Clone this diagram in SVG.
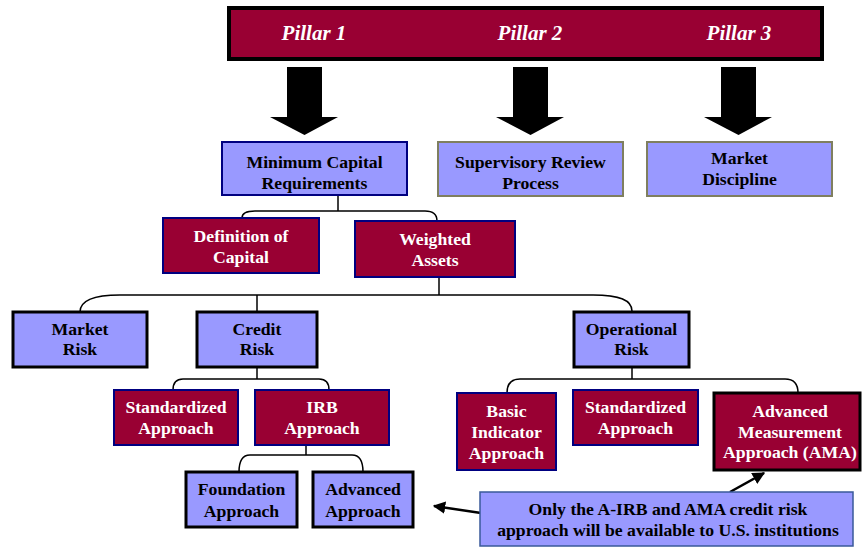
<svg xmlns="http://www.w3.org/2000/svg" width="862" height="548" viewBox="0 0 862 548">
<defs>
<style>
.t{font-family:"Liberation Serif","Times New Roman",serif;font-weight:bold;font-size:17.7px;text-anchor:middle}
.w{fill:#ffffff}
.k{fill:#000000}
.pil{font-family:"Liberation Serif","Times New Roman",serif;font-weight:bold;font-style:italic;font-size:21px;fill:#ffffff;text-anchor:middle}
.lav{fill:#9999ff}
.mar{fill:#990033}
.nav{stroke:#000080;stroke-width:2}
.blk{stroke:#000000;stroke-width:3}
.olv{stroke:#7f7f5f;stroke-width:2}
.con{fill:none;stroke:#000000;stroke-width:1.5}
.big{fill:#000000}
.note{fill:none;stroke:#000000;stroke-width:2.5}
</style>
<marker id="ah" viewBox="0 0 10 10" refX="9" refY="5" markerWidth="5" markerHeight="5" orient="auto" markerUnits="strokeWidth">
<path d="M0 0 L10 5 L0 10 z" fill="#000000"/>
</marker>
</defs>

<g id="pillars">
<rect x="229" y="8" width="593" height="51" class="mar" stroke="#000000" stroke-width="4"/>
<text x="314" y="40" class="pil">Pillar 1</text>
<text x="530" y="40" class="pil">Pillar 2</text>
<text x="739" y="40" class="pil">Pillar 3</text>
</g>

<g id="pillar-arrows">
<path class="big" d="M287 67 H322 V117 H338 L304.5 135 L270 117 H287 Z"/>
<path class="big" d="M513 67 H548 V117 H564 L530.5 135 L496 117 H513 Z"/>
<path class="big" d="M721 67 H756 V117 H772 L738.5 135 L704 117 H721 Z"/>
</g>

<g id="connectors">
<path class="con" d="M338 195 V211"/>
<path class="con" d="M242 218 C242 213 246 211 255 211 L425 211 C433 211 437 215 437 221"/>
<path class="con" d="M439 277 V295"/>
<path class="con" d="M80 312 C80 300 95 295 120 295 L593 295 C620 295 632 300 632 311"/>
<path class="con" d="M257 295 V312"/>
<path class="con" d="M257 367 V379"/>
<path class="con" d="M173 390 C173 383 176 379 183 379 L319 379 C326 379 329 383 329 390"/>
<path class="con" d="M306 445 V455"/>
<path class="con" d="M239 472 C239 461 242 455 250 455 L352 455 C360 455 363 461 363 472"/>
<path class="con" d="M632 367 V379"/>
<path class="con" d="M507 393 C507 384 511 379 520 379 L785 379 C794 379 798 384 798 393"/>
<path class="note" d="M481 513 L434 506" marker-end="url(#ah)"/>
<path class="note" d="M730 492 L764 473" marker-end="url(#ah)"/>
</g>

<g id="min-capital">
<rect x="222" y="142" width="185" height="53" class="lav nav"/>
<text x="314.5" y="168" class="t k">Minimum Capital</text>
<text x="314.5" y="189" class="t k">Requirements</text>
</g>
<g id="supervisory">
<rect x="438" y="142" width="185" height="54" class="lav olv"/>
<text x="530.5" y="168" class="t k">Supervisory Review</text>
<text x="530.5" y="189" class="t k">Process</text>
</g>
<g id="market-discipline">
<rect x="647" y="142" width="185" height="54" class="lav olv"/>
<text x="739.5" y="164" class="t k">Market</text>
<text x="739.5" y="185" class="t k">Discipline</text>
</g>

<g id="definition-capital">
<rect x="163" y="218" width="156" height="55" class="mar nav"/>
<text x="241" y="242" class="t w">Definition of</text>
<text x="241" y="263" class="t w">Capital</text>
</g>
<g id="weighted-assets">
<rect x="355" y="221" width="160" height="56" class="mar nav"/>
<text x="435" y="245" class="t w">Weighted</text>
<text x="435" y="266" class="t w">Assets</text>
</g>

<g id="market-risk">
<rect x="13" y="312" width="134" height="55" class="lav blk"/>
<text x="80" y="335" class="t k">Market</text>
<text x="80" y="355" class="t k">Risk</text>
</g>
<g id="credit-risk">
<rect x="197" y="312" width="120" height="55" class="lav blk"/>
<text x="257" y="335" class="t k">Credit</text>
<text x="257" y="355" class="t k">Risk</text>
</g>
<g id="operational-risk">
<rect x="574" y="312" width="115" height="55" class="lav blk"/>
<text x="631.5" y="335" class="t k">Operational</text>
<text x="631.5" y="355" class="t k">Risk</text>
</g>

<g id="standardized-credit">
<rect x="114" y="390" width="124" height="55" class="mar nav"/>
<text x="176" y="413" class="t w">Standardized</text>
<text x="176" y="434" class="t w">Approach</text>
</g>
<g id="irb">
<rect x="255" y="390" width="134" height="55" class="mar nav"/>
<text x="322" y="413" class="t w">IRB</text>
<text x="322" y="434" class="t w">Approach</text>
</g>

<g id="foundation">
<rect x="186" y="472" width="111" height="55" class="lav blk"/>
<text x="241.5" y="495" class="t k">Foundation</text>
<text x="241.5" y="517" class="t k">Approach</text>
</g>
<g id="advanced">
<rect x="313" y="472" width="100" height="55" class="lav blk"/>
<text x="363" y="495" class="t k">Advanced</text>
<text x="363" y="517" class="t k">Approach</text>
</g>

<g id="basic-indicator">
<rect x="457" y="393" width="99" height="77" class="mar nav"/>
<text x="506.5" y="417" class="t w">Basic</text>
<text x="506.5" y="438" class="t w">Indicator</text>
<text x="506.5" y="459" class="t w">Approach</text>
</g>
<g id="standardized-operational">
<rect x="573" y="390" width="125" height="55" class="mar nav"/>
<text x="635.5" y="413" class="t w">Standardized</text>
<text x="635.5" y="434" class="t w">Approach</text>
</g>
<g id="ama">
<rect x="714" y="393" width="146" height="77" class="mar blk"/>
<text x="790" y="417" class="t w">Advanced</text>
<text x="790" y="438" class="t w">Measurement</text>
<text x="790" y="458" class="t w">Approach (AMA)</text>
</g>

<g id="note">
<rect x="480" y="492" width="373" height="54" class="lav" stroke="#3a5a9a" stroke-width="1.5"/>
<text x="668" y="515" class="t k">Only the A-IRB and AMA credit risk</text>
<text x="668" y="536" class="t k">approach will be available to U.S. institutions</text>
</g>
</svg>
